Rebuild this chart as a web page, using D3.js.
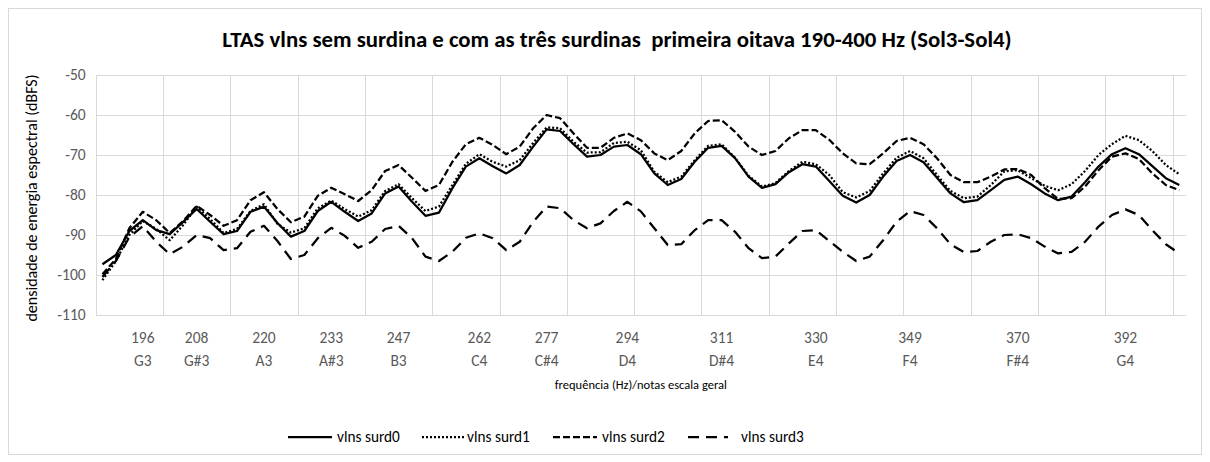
<!DOCTYPE html>
<html>
<head>
<meta charset="utf-8">
<script src="https://cdn.jsdelivr.net/npm/d3@7"></script>
<style>
  html, body { margin: 0; padding: 0; background: #fff; }
  svg { display: block; font-family: Carlito, "Liberation Sans", Arial, sans-serif; }
</style>
</head>
<body>
<svg id="chart" width="1210" height="462"></svg>
<script>
// ---- data ----
const categories = d3.range(81); // frequency bins (~2.69 Hz each), 188–403 Hz
const labelIndex = [3, 7, 12, 17, 22, 28, 33, 39, 46, 53, 60, 68, 76];
const freqLabels = ["196", "208", "220", "233", "247", "262", "277", "294", "311", "330", "349", "370", "392"];
const noteLabels = ["G3", "G#3", "A3", "A#3", "B3", "C4", "C#4", "D4", "D#4", "E4", "F4", "F#4", "G4"];
const yTicks = [-110, -100, -90, -80, -70, -60, -50];
const seriesNames = ["vlns surd0", "vlns surd1", "vlns surd2", "vlns surd3"];

const surd0 = [-97.3, -95.0, -89.0, -86.3, -88.8, -89.8, -86.7, -83.5, -86.7, -89.8,
  -89.0, -84.2, -82.9, -87.0, -90.4, -89.0, -84.0, -81.7, -84.2, -86.5,
  -84.6, -79.6, -77.9, -81.7, -85.2, -84.4, -78.3, -72.9, -70.8, -72.8,
  -74.6, -72.5, -67.9, -63.6, -64.0, -67.3, -70.4, -70.0, -67.9, -67.5,
  -69.8, -74.6, -77.5, -76.0, -71.7, -68.2, -67.7, -70.8, -75.4, -78.2,
  -77.3, -74.3, -72.3, -72.9, -76.5, -80.2, -81.9, -80.0, -75.4, -71.5,
  -70.0, -71.8, -75.7, -79.6, -81.8, -81.3, -78.8, -76.2, -75.4, -77.3,
  -79.6, -81.3, -80.4, -76.8, -72.9, -69.8, -68.3, -69.8, -72.8, -75.8, -77.5];

const surd1 = [-101.3, -96.5, -90.0, -86.5, -88.5, -91.3, -87.5, -82.9, -86.0, -89.5,
  -88.5, -84.0, -82.3, -87.2, -89.4, -88.3, -83.3, -81.4, -83.5, -85.4,
  -83.8, -79.0, -77.3, -80.8, -84.0, -82.9, -77.5, -72.2, -69.8, -71.7,
  -72.9, -71.3, -67.0, -63.1, -63.3, -66.7, -69.4, -69.3, -67.0, -66.7,
  -68.8, -74.2, -76.8, -75.4, -71.3, -67.7, -67.3, -70.7, -75.2, -77.9,
  -77.0, -74.0, -71.7, -72.3, -75.0, -79.3, -80.6, -79.0, -74.6, -70.7,
  -69.0, -70.8, -75.0, -79.0, -80.8, -80.4, -77.5, -74.1, -73.8, -75.8,
  -77.7, -78.8, -77.3, -74.0, -70.0, -67.3, -65.2, -66.3, -69.0, -72.5, -74.8];

const surd2 = [-99.8, -96.0, -88.3, -84.2, -86.3, -89.5, -86.5, -82.7, -85.0, -87.7,
  -86.3, -81.3, -79.3, -83.5, -86.8, -85.4, -80.2, -78.2, -79.8, -81.5,
  -78.8, -74.0, -72.5, -75.7, -79.0, -77.5, -71.7, -67.3, -65.7, -67.5,
  -69.8, -67.9, -63.3, -60.0, -60.8, -64.6, -68.2, -68.2, -65.7, -64.6,
  -66.3, -69.6, -71.3, -69.0, -64.6, -61.5, -61.3, -64.2, -67.9, -70.0,
  -69.0, -65.8, -63.8, -63.8, -66.2, -69.6, -72.1, -72.3, -69.6, -66.5,
  -65.7, -67.3, -70.8, -75.0, -76.8, -76.8, -75.4, -73.6, -73.5, -75.0,
  -78.3, -81.0, -80.8, -77.9, -73.8, -70.4, -69.6, -71.0, -74.6, -77.5, -78.8];

const surd3 = [-100.5, -96.5, -90.5, -87.8, -91.7, -94.8, -92.9, -90.0, -90.8, -93.8,
  -93.3, -89.2, -87.7, -91.5, -96.0, -95.0, -90.8, -88.2, -90.2, -93.2,
  -91.7, -88.5, -87.7, -90.8, -95.4, -96.5, -94.2, -90.7, -89.6, -90.8,
  -93.8, -91.7, -86.7, -82.9, -83.3, -86.3, -88.3, -87.1, -84.0, -81.7,
  -84.1, -88.3, -92.5, -92.3, -88.8, -86.3, -86.3, -89.2, -93.3, -95.8,
  -95.4, -92.1, -89.0, -88.8, -91.5, -94.2, -96.5, -95.4, -91.3, -86.7,
  -84.0, -85.0, -88.3, -92.3, -94.3, -94.0, -91.7, -90.0, -89.8, -90.8,
  -92.9, -94.6, -94.2, -91.7, -87.9, -85.0, -83.6, -85.0, -88.8, -92.3, -94.6];

// ---- layout ----
const svg = d3.select("#chart");
const plot = { left: 95.7, right: 1186, top: 75, bottom: 315 };
const gridColor = "#d9d9d9";
const styles = [
  { dash: null, width: 2.25 },
  { dash: "2,2", width: 2.25 },
  { dash: "7,3", width: 2.25 },
  { dash: "11,7", width: 2.25 }
];

// chart border
svg.append("rect").attr("x", 8.5).attr("y", 8.5).attr("width", 1193).attr("height", 446)
  .attr("fill", "#fff").attr("stroke", gridColor).attr("stroke-width", 1);

const x = d3.scaleBand().domain(categories).range([plot.left, plot.right]).padding(0);
const xc = i => x(i) + x.bandwidth() / 2;
const y = d3.scaleLinear().domain([-110, -50]).range([plot.bottom, plot.top]);

// horizontal gridlines + y tick labels
const yAxis = svg.append("g").attr("transform", `translate(${plot.left},0)`)
  .call(d3.axisLeft(y).tickValues(yTicks).tickSize(-(plot.right - plot.left)).tickPadding(10).tickFormat(d3.format("d")));
yAxis.select(".domain").remove();
yAxis.selectAll(".tick line").attr("stroke", gridColor).attr("stroke-width", 1);
yAxis.selectAll(".tick text").attr("font-size", 15.5).attr("fill", "#595959")
  .attr("font-family", "Carlito, 'Liberation Sans', Arial, sans-serif").text(d => d < 0 ? "-" + Math.abs(d) : d);

// vertical gridlines every 5 categories
const gridCats = categories.filter(i => i % 5 === 0);
svg.append("g").selectAll("line").data(gridCats).join("line")
  .attr("x1", d => Math.round(x(d)) + 0.5).attr("x2", d => Math.round(x(d)) + 0.5)
  .attr("y1", plot.top).attr("y2", plot.bottom)
  .attr("stroke", gridColor).attr("stroke-width", 1);

// x category labels (two lines)
const xl = svg.append("g").attr("font-size", 15.5).attr("fill", "#595959").attr("text-anchor", "middle");
xl.selectAll("text.f").data(labelIndex).join("text").attr("class", "f")
  .attr("x", d => xc(d)).attr("y", 343).text((d, k) => freqLabels[k]);
xl.selectAll("text.n").data(labelIndex).join("text").attr("class", "n")
  .attr("x", d => xc(d)).attr("y", 366).text((d, k) => noteLabels[k]);

// series
const allSeries = [surd0, surd1, surd2, surd3];
const line = d3.line().x((d, i) => xc(categories[i])).y(d => y(d));
svg.append("g").selectAll("path").data(allSeries).join("path")
  .attr("d", d => line(d))
  .attr("fill", "none").attr("stroke", "#000")
  .attr("stroke-width", (d, k) => styles[k].width)
  .attr("stroke-dasharray", (d, k) => styles[k].dash)
  .attr("stroke-linejoin", "round");

// titles
svg.append("text").attr("x", 617).attr("y", 47).attr("text-anchor", "middle")
  .attr("font-size", 22.8).attr("font-weight", "bold").attr("fill", "#000")
  .attr("xml:space", "preserve")
  .text("LTAS vlns sem surdina e com as três surdinas  primeira oitava 190-400 Hz (Sol3-Sol4)");
svg.append("text").attr("x", (plot.left + plot.right) / 2).attr("y", 389).attr("text-anchor", "middle")
  .attr("font-size", 12.5).attr("fill", "#000").text("frequência (Hz)/notas escala geral");
svg.append("text").attr("transform", `translate(37,${(plot.top + plot.bottom) / 2 + 3}) rotate(-90)`)
  .attr("text-anchor", "middle").attr("font-size", 16).attr("fill", "#000")
  .text("densidade de energia espectral (dBFS)");

// legend
const legX = [288, 422, 553, 688];
const lg = svg.append("g");
seriesNames.forEach((name, k) => {
  const g = lg.append("g").attr("transform", `translate(${legX[k]},437)`);
  g.append("line").attr("x1", 0).attr("x2", k === 3 ? 40 : 44).attr("y1", 0).attr("y2", 0)
    .attr("stroke", "#000").attr("stroke-width", styles[k].width)
    .attr("stroke-dasharray", styles[k].dash);
  g.append("text").attr("x", k === 3 ? 53 : (k === 1 ? 45 : 49)).attr("y", 5).attr("font-size", 15.3).attr("fill", "#000").text(name);
});
</script>
</body>
</html>
